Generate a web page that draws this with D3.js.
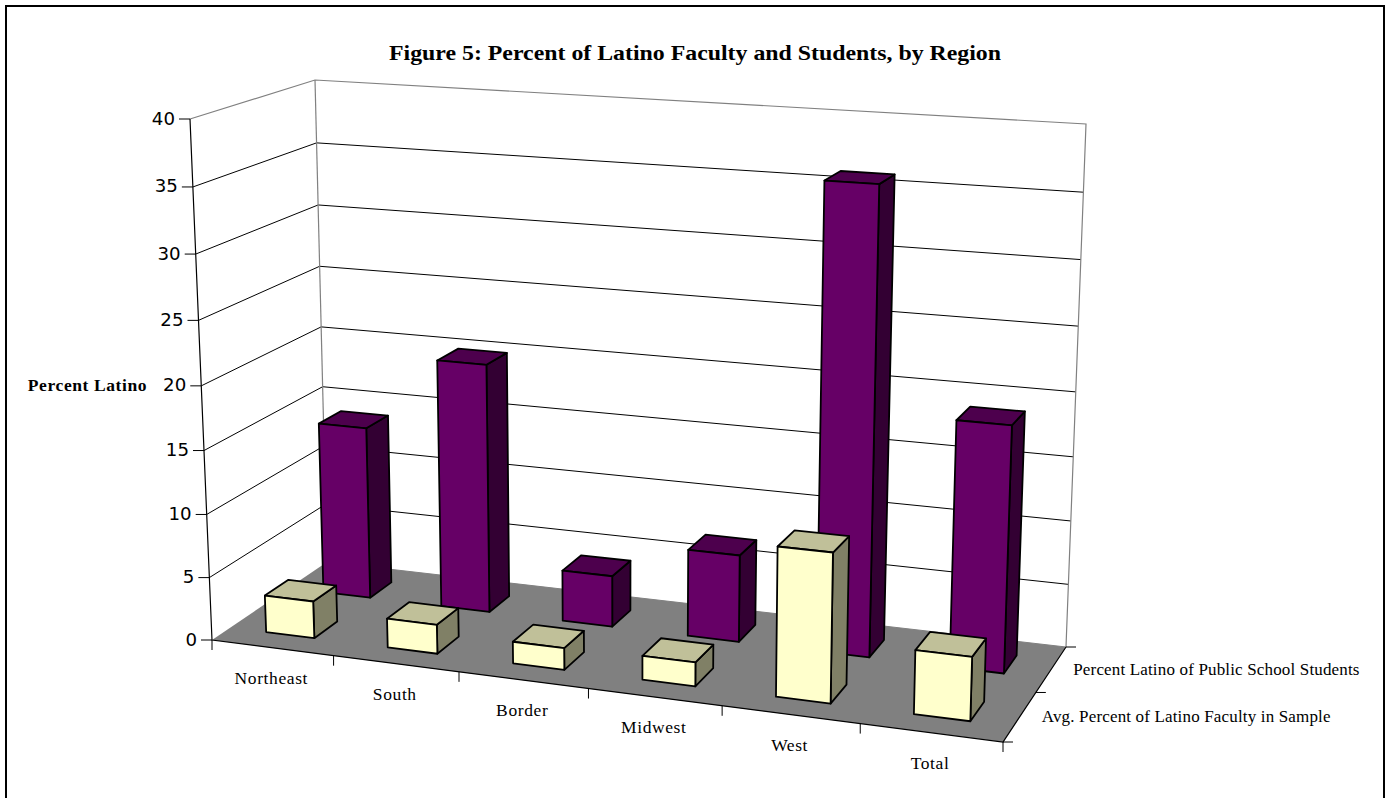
<!DOCTYPE html>
<html><head><meta charset="utf-8">
<script src="https://d3js.org/d3.v7.min.js"></script>
<style>html,body{margin:0;padding:0;background:#fff;overflow:hidden}svg{display:block}</style>
</head><body><svg id="c" width="1390" height="798"></svg>
<script>
const title = "Figure 5: Percent of Latino Faculty and Students, by Region";
const yAxisTitle = "Percent Latino";
const categories = ["Northeast","South","Border","Midwest","West","Total"];
const seriesNames = ["Avg. Percent of Latino Faculty in Sample","Percent Latino of Public School Students"];
const facultyValues = [2.95,2.3,1.7,1.85,11.35,4.8];
const studentValues = [14.0,20.0,4.1,6.9,36.0,19.0];
const yTicks = [0,5,10,15,20,25,30,35,40];

const floorQuad = [[212,640],[1003,742],[1066,647],[327,562]];
const topQuad   = [[190,119],[1020,172],[1086,124],[315,80]];
const faces = {
  faculty:{front:"#FFFFCC",side:"#808066",top:"#C0C099"},
  student:{front:"#660066",side:"#330033",top:"#4D004D"}
};

function homography(q){
  const [[x0,y0],[x1,y1],[x2,y2],[x3,y3]] = q;
  const dx1=x1-x2,dx2=x3-x2,sx=x0-x1+x2-x3,dy1=y1-y2,dy2=y3-y2,sy=y0-y1+y2-y3;
  const d=dx1*dy2-dx2*dy1, g=(sx*dy2-dx2*sy)/d, h=(dx1*sy-sx*dy1)/d;
  const a=x1-x0+g*x1,b=x3-x0+h*x3,e=y1-y0+g*y1,f=y3-y0+h*y3;
  return (u,v)=>{const w=g*u+h*v+1;return [(a*u+b*v+x0)/w,(e*u+f*v+y0)/w];};
}
const floorH = homography(floorQuad), topH = homography(topQuad);
const xScale = d3.scaleBand().domain(categories).range([0,1]).paddingInner(0);
const zScale = d3.scaleBand().domain(seriesNames).range([0,1]);
const yScale = d3.scaleLinear().domain([0,40]).range([0,1]);
const warp = (w,r) => w/(w+r*(1-w));
function P(u,v,val){
  const uw=warp(u,0.9825);
  const a=floorH(uw,v), b=topH(uw,v), w=warp(yScale(val),1.05);
  return [a[0]+(b[0]-a[0])*w, a[1]+(b[1]-a[1])*w];
}
const svg = d3.select("#c");
const line = d3.line();
const poly = pts => line(pts)+"Z";

// frame
svg.append("path").attr("d","M6,810V6H1384V810").attr("fill","none").attr("stroke","#000").attr("stroke-width",2);

// floor
svg.append("path").attr("d",poly([P(0,0,0),P(1,0,0),P(1,1,0),P(0,1,0)])).attr("fill","#808080");

// gridlines
const g = svg.append("g");
g.selectAll(".grid").data(yTicks.filter(t=>t>0&&t<40)).join("path").attr("class","grid")
  .attr("d",t=>line([P(0,0,t),P(0,1,t),P(1,1,t)])).attr("fill","none").attr("stroke","#000").attr("stroke-width",1);
g.append("path").attr("d",line([P(0,0,40),P(0,1,40),P(1,1,40),P(1,1,0)])).attr("fill","none").attr("stroke","#808080").attr("stroke-width",1.2);
g.append("path").attr("d",line([P(0,1,40),P(0,1,0)])).attr("fill","none").attr("stroke","#808080").attr("stroke-width",1.2);
g.append("path").attr("d",line([P(0,1,0),P(1,1,0)])).attr("fill","none").attr("stroke","#808080").attr("stroke-width",1);

// axes
const ax = svg.append("g").attr("stroke","#000").attr("fill","none");
ax.append("path").attr("d",line([P(0,0,40),P(0,0,0),P(1,0,0),P(1,1,0)])).attr("stroke-width",1.2);
ax.selectAll(".yt").data(yTicks).join("path").attr("class","yt")
  .attr("d",t=>{const p=P(0,0,t);return line([p,[p[0]-11,p[1]]]);}).attr("stroke-width",1);
const catEdges = d3.range(categories.length+1).map(i=>i/categories.length);
ax.selectAll(".xt").data(catEdges).join("path").attr("class","xt")
  .attr("d",u=>{const p=P(u,0,0);return line([p,[p[0],p[1]+10]]);}).attr("stroke-width",1);
ax.selectAll(".zt").data([0,.5,1]).join("path").attr("class","zt")
  .attr("d",v=>{const p=P(1,v,0);return line([p,[p[0]+10,p[1]]]);}).attr("stroke-width",1);

// bars
const barRows = [
  {values:studentValues,name:seriesNames[1],c:faces.student},
  {values:facultyValues,name:seriesNames[0],c:faces.faculty}
];
const gapW = 0.4, gapD = 0.4;
barRows.forEach(row=>{
  const items = categories.map((cat,i)=>({cat,val:row.values[i]}));
  const gr = svg.append("g").selectAll("g").data(items).join("g")
    .attr("stroke","#000").attr("stroke-width",1.8).attr("stroke-linejoin","round");
  const geom = d=>{
    const uc=xScale(d.cat)+xScale.bandwidth()/2, vc=zScale(row.name)+zScale.bandwidth()/2;
    const du=xScale.bandwidth()*gapW/2, dv=zScale.bandwidth()*gapD/2;
    return {u0:uc-du,u1:uc+du,v0:vc-dv,v1:vc+dv};
  };
  gr.append("path").attr("fill",row.c.side).attr("d",d=>{const b=geom(d);
    return poly([P(b.u1,b.v0,0),P(b.u1,b.v1,0),P(b.u1,b.v1,d.val),P(b.u1,b.v0,d.val)]);});
  gr.append("path").attr("fill",row.c.top).attr("d",d=>{const b=geom(d);
    return poly([P(b.u0,b.v0,d.val),P(b.u1,b.v0,d.val),P(b.u1,b.v1,d.val),P(b.u0,b.v1,d.val)]);});
  gr.append("path").attr("fill",row.c.front).attr("d",d=>{const b=geom(d);
    return poly([P(b.u0,b.v0,0),P(b.u1,b.v0,0),P(b.u1,b.v0,d.val),P(b.u0,b.v0,d.val)]);});
});

// text
const serif="'Liberation Serif','Times New Roman',serif";
const T=(x,y,s,o={})=>svg.append("text").attr("x",x).attr("y",y).text(s)
  .attr("font-family",o.f||serif).attr("font-size",o.s||15).attr("font-weight",o.w||"normal")
  .attr("text-anchor",o.a||"start").attr("dominant-baseline","central").attr("fill","#000")
  .attr("letter-spacing",o.ls||0);
T(695,52,title,{s:22,w:"bold",a:"middle"}).attr("textLength",612).attr("lengthAdjust","spacingAndGlyphs");
T(87.5,385,yAxisTitle,{s:17.5,w:"bold",a:"middle",ls:0.6});
yTicks.forEach(t=>{const p=P(0,0,t);T(p[0]-15,p[1]-1,String(t),{f:"'DejaVu Sans',Verdana,sans-serif",s:18.2,a:"end"});});
categories.forEach(c=>{const p=P(xScale(c)+xScale.bandwidth()/2,0,0);T(p[0]-1,p[1]+30,c,{a:"middle",s:17.5,ls:0.6});});
seriesNames.forEach(n=>{const p=P(1,zScale(n)+zScale.bandwidth()/2,0);T(p[0]+22,p[1],n,{s:17,ls:0.16});});
</script></body></html>
